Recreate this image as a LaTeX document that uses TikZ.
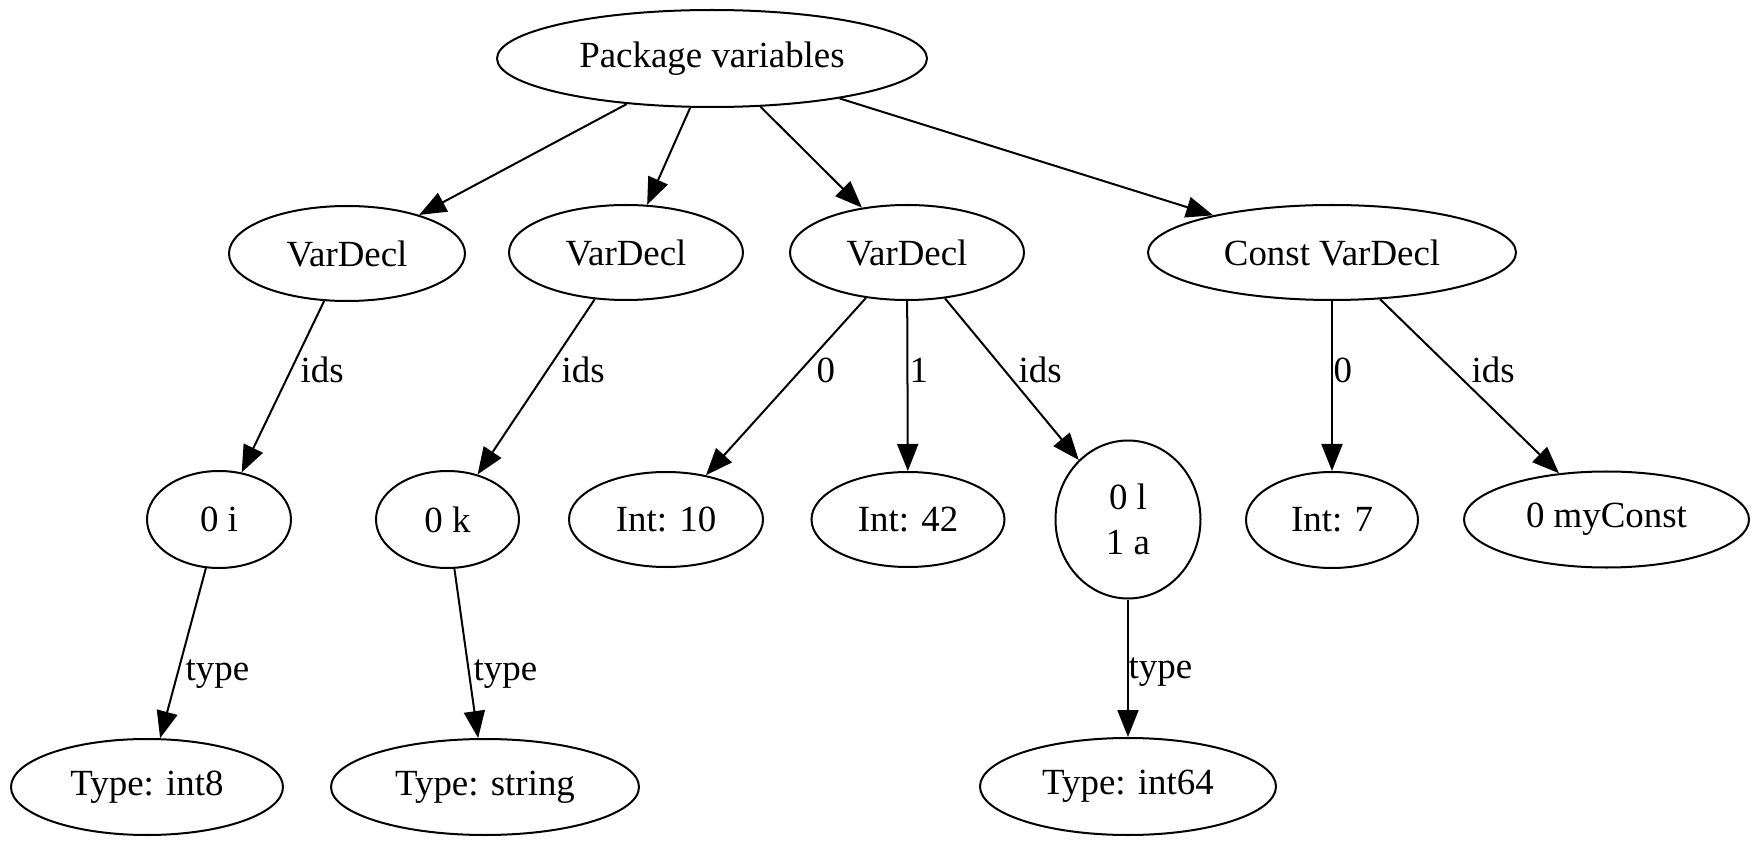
\documentclass[tikz,border=0pt]{standalone}
\usepackage{fontspec}
\setmainfont{Liberation Serif}
\usetikzlibrary{shapes.geometric,arrows.meta}
\tikzset{
  ast/.style={ellipse, draw, line width=0.57pt, inner sep=0pt, align=center,
    font=\fontsize{10.5}{12.8}\selectfont},
  edge/.style={-{Triangle[length=0.27cm,width=0.21cm]}, line width=0.57pt},
  lbl/.style={anchor=base west, inner sep=0pt, font=\fontsize{10.5}{12.8}\selectfont}
}
\begin{document}
\begin{tikzpicture}
    \useasboundingbox (0,0) rectangle (17.6,-8.46);
        \node [ast, minimum width=4.30cm, minimum height=0.97cm] (root) at (7.12,-0.585) {Package variables};
        \node [ast, minimum width=2.36cm, minimum height=0.95cm] (v1) at (3.47,-2.535) {VarDecl};
        \node [ast, minimum width=2.34cm, minimum height=0.95cm] (v2) at (6.26,-2.525) {VarDecl};
        \node [ast, minimum width=2.34cm, minimum height=0.95cm] (v3) at (9.07,-2.525) {VarDecl};
        \node [ast, minimum width=3.68cm, minimum height=0.95cm] (c1) at (13.32,-2.525) {Const VarDecl};
        \node [ast, minimum width=1.44cm, minimum height=0.97cm] (i0) at (2.19,-5.195) {0 i};
        \node [ast, minimum width=1.43cm, minimum height=0.97cm] (k0) at (4.475,-5.195) {0 k};
        \node [ast, minimum width=1.94cm, minimum height=0.95cm] (n10) at (6.66,-5.195) {Int: 10};
        \node [ast, minimum width=1.93cm, minimum height=0.95cm] (n42) at (9.08,-5.195) {Int: 42};
        \node [ast, minimum width=1.45cm, minimum height=1.58cm] (la) at (11.28,-5.195) {0 l\\1 a};
        \node [ast, minimum width=1.72cm, minimum height=0.96cm] (n7) at (13.32,-5.2) {Int: 7};
        \node [ast, minimum width=2.85cm, minimum height=0.96cm] (mc) at (16.065,-5.195) {0 myConst};
        \node [ast, minimum width=2.72cm, minimum height=0.96cm] (t8) at (1.47,-7.87) {Type: int8};
        \node [ast, minimum width=3.08cm, minimum height=0.96cm] (ts) at (4.85,-7.87) {Type: string};
        \node [ast, minimum width=2.96cm, minimum height=0.97cm] (t64) at (11.28,-7.865) {Type: int64};
        \draw [edge] (root) -- (v1);
        \draw [edge] (root) -- (v2);
        \draw [edge] (root) -- (v3);
        \draw [edge] (root) -- (c1);
        \draw [edge] (v1) -- (i0);
        \draw [edge] (v2) -- (k0);
        \draw [edge] (v3) -- (n10);
        \draw [edge] (v3) -- (n42);
        \draw [edge] (v3) -- (la);
        \draw [edge] (c1) -- (n7);
        \draw [edge] (c1) -- (mc);
        \draw [edge] (i0) -- (t8);
        \draw [edge] (k0) -- (ts);
        \draw [edge] (la) -- (t64);
        \node [lbl] (l1) at (3.00,-3.83) {ids};
        \node [lbl] (l2) at (5.61,-3.83) {ids};
        \node [lbl] (l3) at (8.16,-3.82) {0};
        \node [lbl] (l4) at (9.09,-3.82) {1};
        \node [lbl] (l5) at (10.18,-3.82) {ids};
        \node [lbl] (l6) at (13.33,-3.82) {0};
        \node [lbl] (l7) at (14.71,-3.82) {ids};
        \node [lbl] (l8) at (1.85,-6.80) {type};
        \node [lbl] (l9) at (4.73,-6.80) {type};
        \node [lbl] (l10) at (11.28,-6.78) {type};
    \end{tikzpicture}
\end{document}
